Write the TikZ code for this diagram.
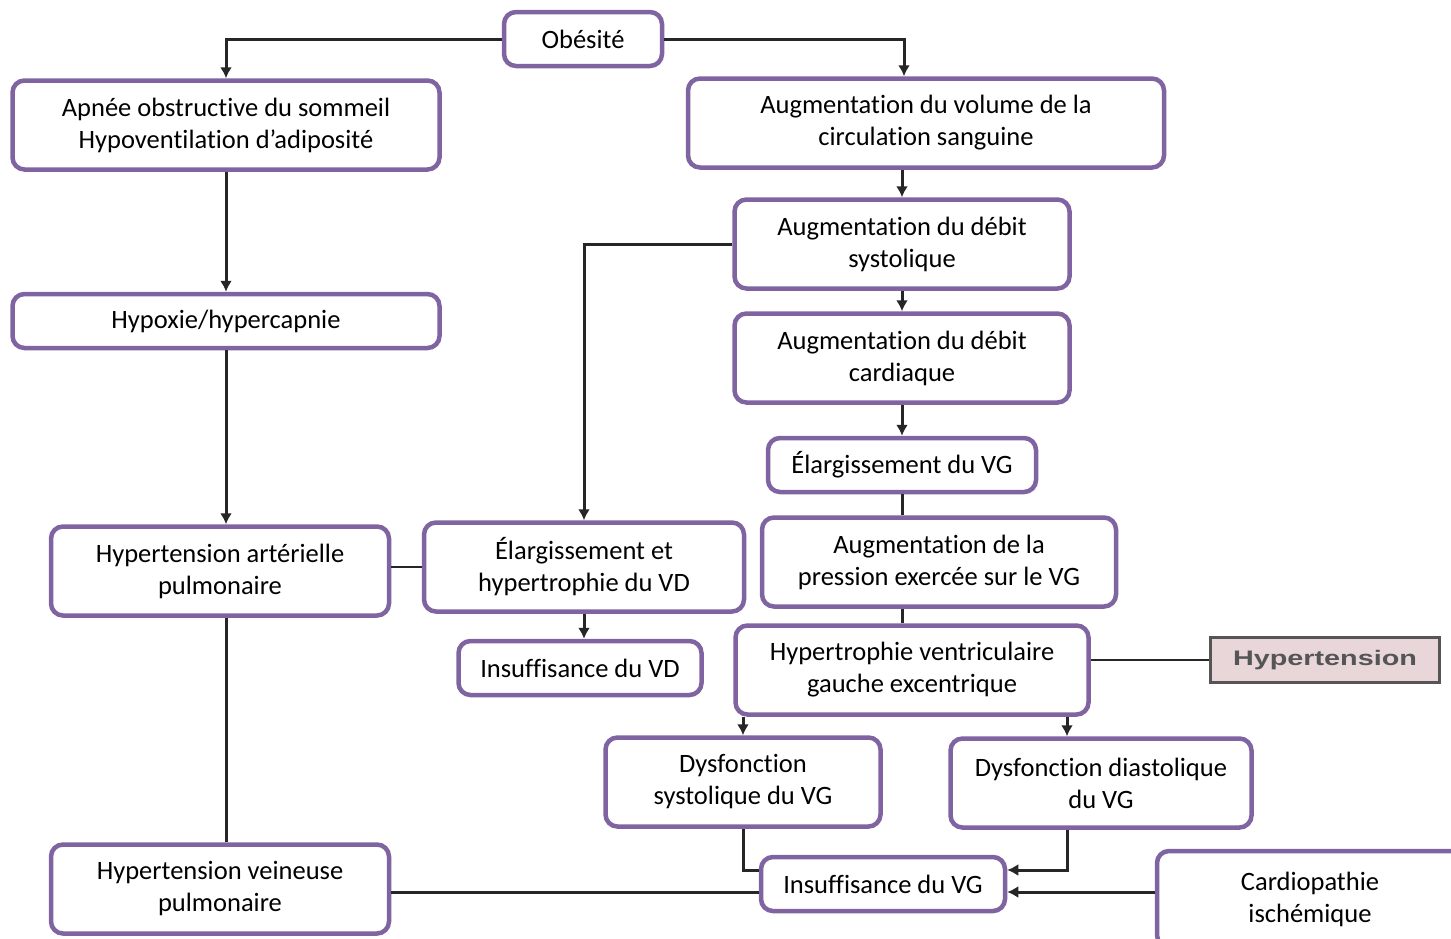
\documentclass[tikz,border=0pt]{standalone}
\usepackage{fontspec}
\setmainfont{Carlito}[Ligatures = NoCommon]
\newfontfamily\labelfont{Liberation Sans}
\usepackage{graphicx}
\usepackage{tikz}
\usetikzlibrary{shapes, arrows.meta}
\usetikzlibrary{positioning}
\definecolor{boxpurple}{HTML}{8064A2}
\definecolor{hyperfill}{HTML}{E8D6D9}
\definecolor{hyperline}{HTML}{555555}
\tikzstyle{box} = [rectangle, rounded corners = 12, minimum height = 89,
  line width = 4.5, draw = boxpurple, fill = white, text centered,
  align = center, inner sep = 0]
\tikzstyle{slimbox} = [box, minimum height = 54]
\tikzstyle{greybox} = [
  rectangle, minimum height = 45, line width = 2.5,
  draw = hyperline, fill = hyperfill, text = hyperline,
  text centered, inner sep = 0
]
\tikzstyle{link} = [line width = 3, draw = black!85]

\begin{document}
\begin{tikzpicture}[x = 1pt, y = -1pt, node distance = 0,
    >={Latex[length = 11pt, width = 12pt]},
    font = \fontsize{26.5}{32}\selectfont]
    \useasboundingbox (0, 0) rectangle (1451, 938);
    % top
    \node [slimbox, minimum width = 158] (obesite) at (583, 39) {Obésité};
    % left column
    \node [box, minimum width = 427, below of = obesite, xshift = -357, yshift = -86] (apnee) {Apnée obstructive du sommeil\\Hypoventilation d’adiposité};
    \node [slimbox, minimum width = 427, below of = apnee, yshift = -196] (hypoxie) {Hypoxie/hypercapnie};
    \node [box, minimum width = 338, below of = hypoxie, xshift = -6, yshift = -250] (htap) {Hypertension artérielle\\pulmonaire};
    \node [box, minimum width = 338, below of = htap, yshift = -318] (htvp) {Hypertension veineuse\\pulmonaire};
    % right column
    \node [box, minimum width = 476, below of = obesite, xshift = 343, yshift = -84] (volume) {Augmentation du volume de la\\circulation sanguine};
    \node [box, minimum width = 335, below of = volume, xshift = -24, yshift = -121] (systolique) {Augmentation du débit\\systolique};
    \node [box, minimum width = 335, below of = systolique, yshift = -114] (cardiaque) {Augmentation du débit\\cardiaque};
    \node [slimbox, minimum width = 268, below of = cardiaque, yshift = -107] (elarg-vg) {Élargissement du VG};
    \node [box, minimum width = 354, below of = elarg-vg, xshift = 37, yshift = -97] (pression) {Augmentation de la\\pression exercée sur le VG};
    \node [box, minimum width = 353, below of = pression, xshift = -27, yshift = -108] (hypertrophie) {Hypertrophie ventriculaire\\gauche excentrique};
    \node [greybox, minimum width = 229, right of = hypertrophie, xshift = 413, yshift = 10] (hypertension) {\labelfont\bfseries\fontsize{21}{24}\selectfont\scalebox{1.37}[1]{Hypertension}};
    % middle
    \node [box, minimum width = 320, right of = htap, xshift = 364, yshift = 4] (elarg-vd) {Élargissement et\\hypertrophie du VD};
    \node [slimbox, minimum width = 243, below of = elarg-vd, xshift = -4, yshift = -101] (insuff-vd) {Insuffisance du VD};
    % bottom
    \node [box, minimum width = 275, below of = hypertrophie, xshift = -169, yshift = -112] (dysf-sys) {Dysfonction\\systolique du VG};
    \node [box, minimum width = 301, below of = hypertrophie, xshift = 189, yshift = -113] (dysf-dia) {Dysfonction diastolique\\du VG};
    \node [slimbox, minimum width = 244, below of = dysf-sys, xshift = 140, yshift = -102] (insuff-vg) {Insuffisance du VG};
    \node [box, minimum width = 306, minimum height = 96, right of = insuff-vg, xshift = 427, yshift = -15] (cardiopathie) {Cardiopathie\\ischémique};

    \coordinate (vol-in) at ([xshift = -22] volume.north);
    \coordinate (dia-in) at ([xshift = -34] dysf-dia.north);
    \coordinate (dia-out) at ([xshift = -34] dysf-dia.south);
    \coordinate (vg-high) at ([yshift = 14] insuff-vg.center);
    \coordinate (vg-low) at ([yshift = -8] insuff-vg.center);

    \draw [link, ->] (obesite) -| (apnee);
    \draw [link, ->] (obesite) -| (vol-in);
    \draw [link, ->] (volume.south -| systolique) -- (systolique);
    \draw [link, ->] (systolique.west) -| (elarg-vd);
    \draw [link, ->] (systolique) -- (cardiaque);
    \draw [link, ->] (cardiaque) -- (elarg-vg);
    \draw [link] (elarg-vg) -- (elarg-vg |- pression.north);
    \draw [link] (pression.south -| elarg-vg) -- (hypertrophie.north -| elarg-vg);
    \draw [link, ->] (apnee) -- (hypoxie);
    \draw [link, ->] (hypoxie) -- (hypoxie |- htap.north);
    \draw [link] (htap.south -| hypoxie) -- (htvp.north -| hypoxie);
    \draw [link, line width = 2.2] (htap.east |- elarg-vd) -- (elarg-vd);
    \draw [link, ->] (elarg-vd) -- (elarg-vd |- insuff-vd.north);
    \draw [link, line width = 2.2] (hypertrophie.east |- hypertension) -- (hypertension);
    \draw [link, ->] (hypertrophie.south -| dysf-sys) -- (dysf-sys);
    \draw [link, ->] (dia-in |- hypertrophie.south) -- (dia-in);
    \draw [link] (dysf-sys) |- (insuff-vg.west |- vg-high);
    \draw [link, ->] (dia-out) |- (insuff-vg.east |- vg-high);
    \draw [link, ->] (cardiopathie.west |- vg-low) -- (insuff-vg.east |- vg-low);
    \draw [link] (htvp.east |- vg-low) -- (insuff-vg.west |- vg-low);
\end{tikzpicture}
\end{document}
